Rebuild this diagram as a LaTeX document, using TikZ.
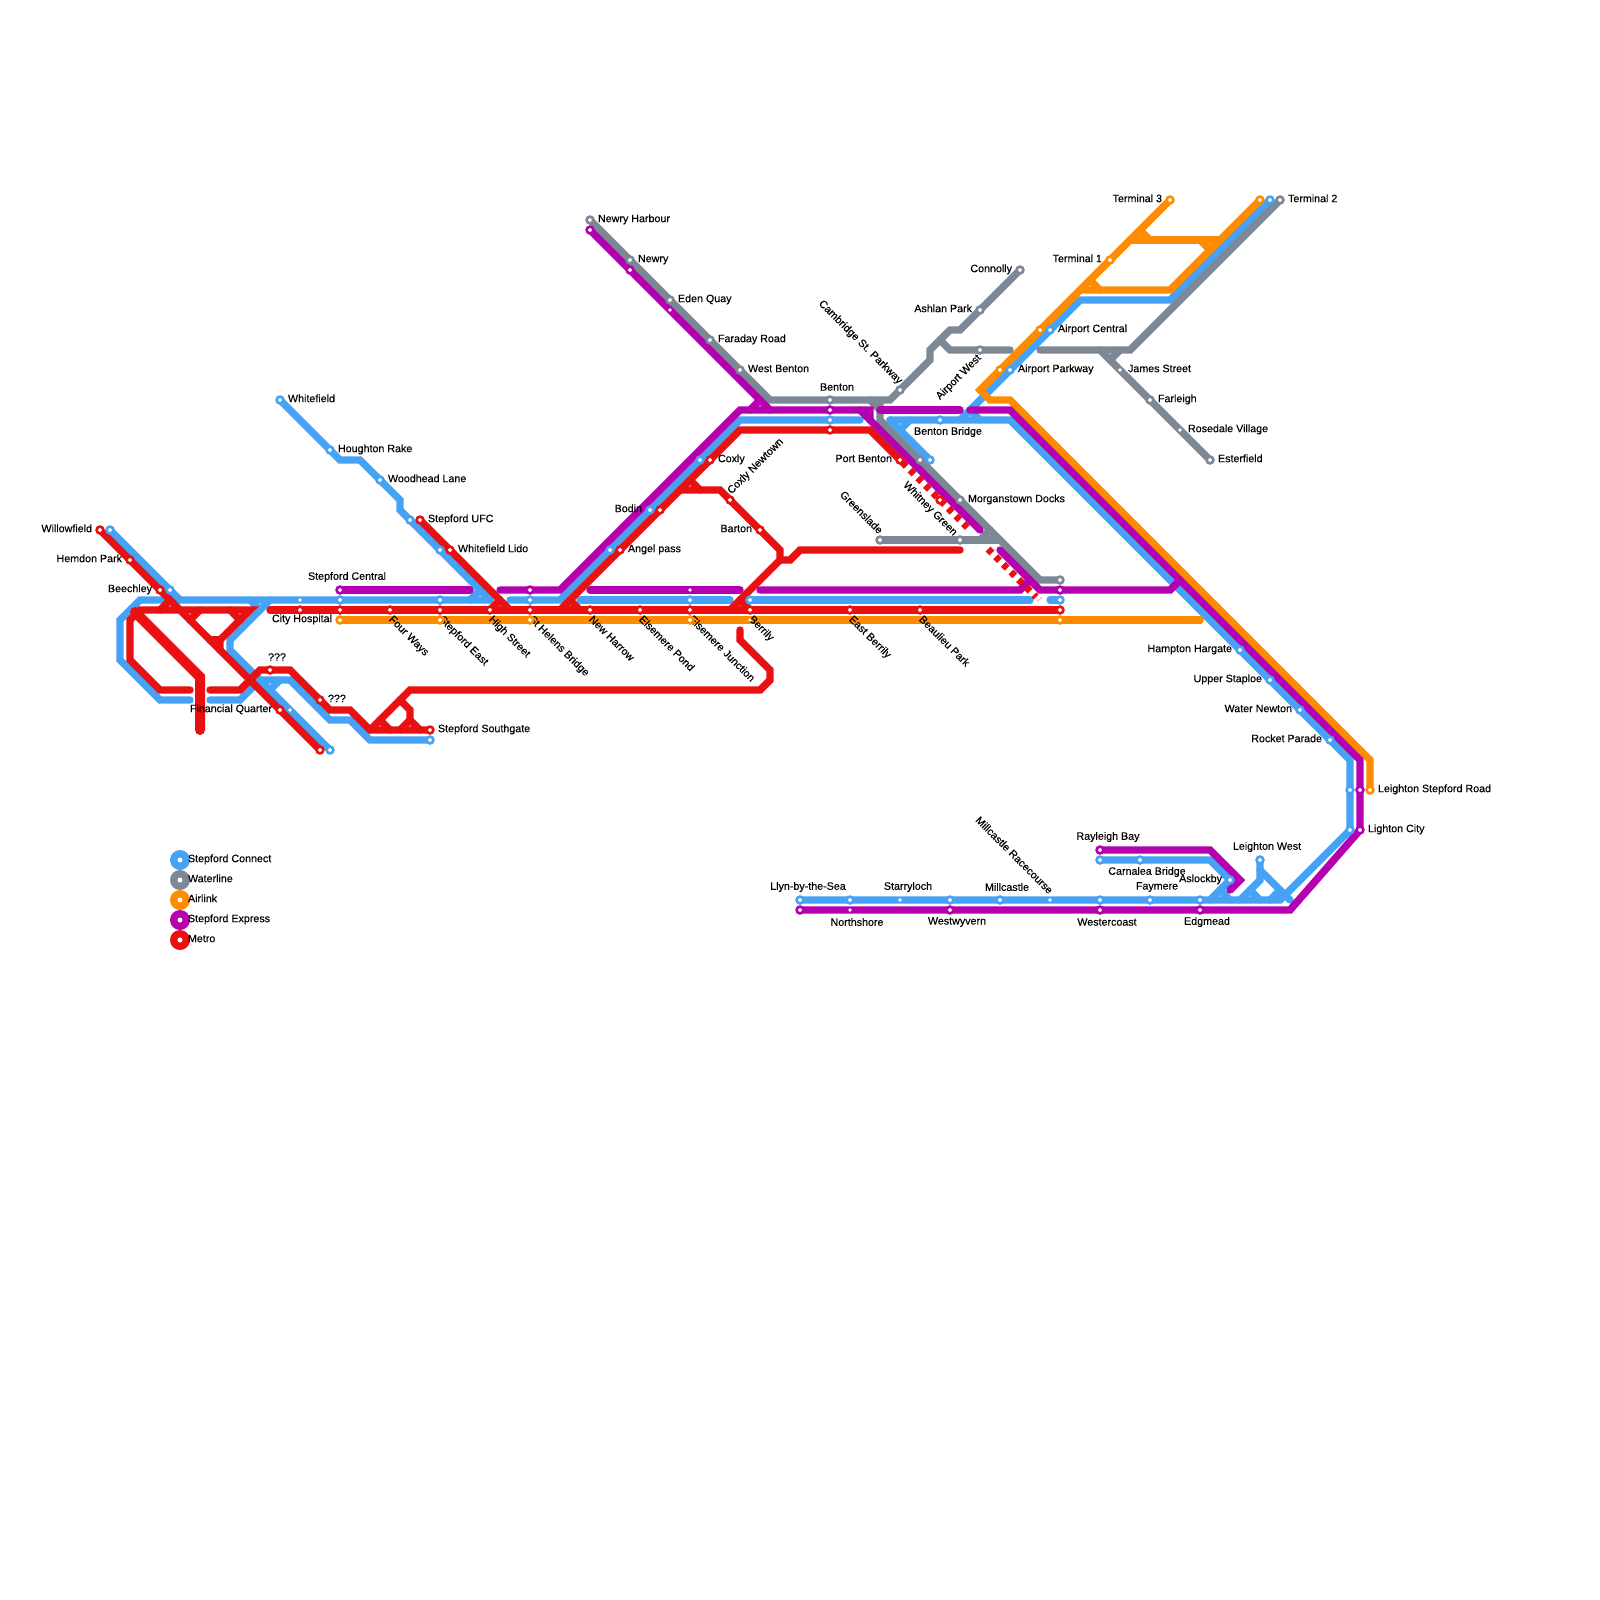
\documentclass[tikz,border=0pt]{standalone}
\usepackage{fontspec}
\newfontfamily\lblfont{Liberation Sans}[FakeBold=0.25]
\definecolor{cblue}{HTML}{46A2F5}
\definecolor{cgray}{HTML}{7C8896}
\definecolor{corange}{HTML}{FF8C00}
\definecolor{cpurple}{HTML}{B400AE}
\definecolor{cred}{HTML}{E81010}
\pgfdeclarelayer{lines}
\pgfdeclarelayer{labels}
\pgfsetlayers{lines,labels,main}
\tikzset{
  ring/.style={circle,fill=white,draw=#1,line width=2.6pt,minimum size=6.8pt,inner sep=0pt,outer sep=0pt},
  smalldot/.style={circle,fill=white,minimum size=3.8pt,inner sep=0pt,outer sep=0pt},
  mline/.style={line width=7.4pt,line cap=round,line join=miter,draw=#1},
  thick red/.style={line width=10pt,line cap=round,line join=miter,draw=cred},
  dashred/.style={line width=7pt,draw=cred,line cap=butt,dash pattern=on 5.5pt off 5.3pt},
  lbl/.style={font=\lblfont\fontsize{10.7}{12}\selectfont,text=black,inner sep=0pt,outer sep=0pt},
  rl/.style={lbl,anchor=mid west,xshift=8pt},
  ll/.style={lbl,anchor=mid east,xshift=-8pt},
  cl/.style={lbl,anchor=center},
  dr/.style={lbl,anchor=mid west,rotate=-45,xshift=6pt,yshift=-6pt},
  ur/.style={lbl,anchor=mid west,rotate=45,xshift=5pt,yshift=5pt},
  ule/.style={lbl,anchor=mid east,rotate=-45,xshift=-5pt,yshift=5pt},
  dle/.style={lbl,anchor=mid east,rotate=45,xshift=-5pt,yshift=-5pt},
  leg/.style={circle,fill=#1,minimum size=20pt,inner sep=0pt},
  legdot/.style={circle,fill=white,minimum size=5pt,inner sep=0pt},
  legt/.style={lbl,anchor=mid west}
}
\newcommand{\stn}[4]{\node[ring=#4] (#1) at (#2,#3) {};}
\newcommand{\sdt}[3]{\node[smalldot] (#1) at (#2,#3) {};}
\newcommand{\lab}[4]{\begin{pgfonlayer}{labels}\node[#1] (l#2) at (#3) {#4};\end{pgfonlayer}}
\begin{document}
\begin{tikzpicture}[x=1pt,y=-1pt]
\useasboundingbox (0,0) rectangle (1600,1600);
% ---------- blue stations
\stn{bwhitefield}{280}{400}{cblue} \stn{bhoughton}{330}{450}{cblue} \stn{bwoodhead}{380}{480}{cblue}
\stn{bufc}{410}{520}{cblue} \stn{blido}{440}{550}{cblue} \stn{bwillow}{110}{530}{cblue}
\stn{bbeech}{170}{590}{cblue} \sdt{bfin}{290}{710} \stn{bend}{330}{750}{cblue}
\sdt{bch}{300}{600} \stn{bcent}{340}{600}{cblue} \stn{beast}{440}{600}{cblue}
\stn{bsta}{530}{600}{cblue} \stn{bangel}{610}{550}{cblue} \stn{bbodin}{650}{510}{cblue}
\stn{bcoxly}{700}{460}{cblue} \stn{bbenton}{830}{420}{cblue} \stn{bjunc}{690}{600}{cblue}
\stn{bberr}{750}{600}{cblue} \stn{bsouth}{430}{740}{cblue} \stn{bbridge}{940}{420}{cblue}
\stn{bpb}{930}{460}{cblue} \stn{bterm}{1270}{200}{cblue} \stn{bac}{1050}{330}{cblue}
\stn{bap}{1010}{370}{cblue} \stn{bfar}{1060}{600}{cblue} \stn{hampton}{1240}{650}{cblue}
\stn{staploe}{1270}{680}{cblue} \stn{water}{1300}{710}{cblue} \stn{rocket}{1330}{740}{cblue}
\stn{blsr}{1350}{790}{cblue} \stn{blc}{1350}{830}{cblue} \stn{llyn}{800}{900}{cblue}
\stn{bnorth}{850}{900}{cblue} \sdt{starry}{900}{900} \stn{bwest}{950}{900}{cblue}
\stn{millc}{1000}{900}{cblue} \sdt{racec}{1050}{900} \stn{bwc}{1100}{900}{cblue}
\stn{faymere}{1150}{900}{cblue} \stn{bedg}{1200}{900}{cblue} \stn{bray}{1100}{860}{cblue}
\stn{carnalea}{1140}{860}{cblue} \stn{aslock}{1230}{880}{cblue} \stn{lwest}{1260}{860}{cblue}
% ---------- gray stations
\stn{gnh}{590}{220}{cgray} \stn{gnewry}{630}{260}{cgray} \stn{geden}{670}{300}{cgray}
\stn{gfar}{710}{340}{cgray} \stn{gwb}{740}{370}{cgray} \stn{gbenton}{830}{400}{cgray}
\stn{gcamb}{900}{390}{cgray} \stn{ashlan}{980}{310}{cgray} \stn{connolly}{1020}{270}{cgray}
\stn{airw}{980}{350}{cgray} \stn{gpb}{920}{460}{cgray} \stn{morg}{960}{500}{cgray}
\stn{gree}{880}{540}{cgray} \stn{gw}{960}{540}{cgray} \stn{gfar2}{1060}{580}{cgray}
\stn{gt2}{1280}{200}{cgray} \sdt{james}{1120}{370} \stn{farleigh}{1150}{400}{cgray}
\sdt{rosedale}{1180}{430} \stn{ester}{1210}{460}{cgray}
% ---------- orange stations
\stn{ocent}{340}{620}{corange} \stn{oeast}{440}{620}{corange} \stn{osta}{530}{620}{corange}
\stn{ojunc}{690}{620}{corange} \sdt{oberr}{750}{620} \stn{ofar}{1060}{620}{corange}
\stn{oap}{1000}{370}{corange} \stn{oac}{1040}{330}{corange} \stn{tone}{1110}{260}{corange}
\stn{tthree}{1170}{200}{corange} \stn{otwo}{1260}{200}{corange} \stn{olsr}{1370}{790}{corange}
% ---------- purple stations
\stn{pcent}{340}{590}{cpurple} \stn{psta}{530}{590}{cpurple} \sdt{pjunc}{690}{590}
\stn{pfar}{1060}{590}{cpurple} \stn{pnh}{590}{230}{cpurple} \stn{pnewry}{630}{270}{cpurple}
\sdt{peden}{670}{310} \stn{pbenton}{830}{410}{cpurple} \stn{plsr}{1360}{790}{cpurple}
\stn{plc}{1360}{830}{cpurple} \stn{pllyn}{800}{910}{cpurple} \sdt{pnorth}{850}{910}
\stn{pwest}{950}{910}{cpurple} \stn{pwc}{1100}{910}{cpurple} \stn{pedg}{1200}{910}{cpurple}
\stn{pray}{1100}{850}{cpurple}
% ---------- red stations
\stn{rwillow}{100}{530}{cred} \stn{hemdon}{130}{560}{cred} \stn{beechley}{160}{590}{cred}
\stn{rfin}{280}{710}{cred} \stn{rend}{320}{750}{cred} \stn{rqa}{270}{670}{cred}
\stn{rqb}{320}{700}{cred} \stn{rsouth}{430}{730}{cred} \stn{rufc}{420}{520}{cred}
\stn{rlido}{450}{550}{cred} \stn{rch}{300}{610}{cred} \stn{rcent}{340}{610}{cred}
\stn{four}{390}{610}{cred} \stn{reast}{440}{610}{cred} \stn{high}{490}{610}{cred}
\stn{rsta}{530}{610}{cred} \stn{newh}{590}{610}{cred} \stn{elp}{640}{610}{cred}
\stn{rjunc}{690}{610}{cred} \stn{rberr}{750}{610}{cred} \stn{eb}{850}{610}{cred}
\stn{bp}{920}{610}{cred} \stn{rfar}{1060}{610}{cred} \stn{rangel}{620}{550}{cred}
\stn{rbodin}{660}{510}{cred} \stn{rcoxly}{710}{460}{cred} \stn{rbenton}{830}{430}{cred}
\stn{portb}{900}{460}{cred} \stn{cnewt}{730}{500}{cred} \stn{barton}{760}{530}{cred}
\stn{whitney}{940}{500}{cred}
% ---------- labels
\lab{rl}{a}{bwhitefield}{Whitefield}
\lab{rl}{b}{bhoughton}{Houghton Rake}
\lab{rl}{c}{bwoodhead}{Woodhead Lane}
\lab{rl}{d}{rufc}{Stepford UFC}
\lab{rl}{e}{rlido}{Whitefield Lido}
\lab{rl}{f}{rangel}{Angel pass}
\lab{rl}{g}{rcoxly}{Coxly}
\lab{rl}{h}{gnh}{Newry Harbour}
\lab{rl}{i}{gnewry}{Newry}
\lab{rl}{j}{geden}{Eden Quay}
\lab{rl}{k}{gfar}{Faraday Road}
\lab{rl}{l}{gwb}{West Benton}
\lab{rl}{m}{morg}{Morganstown Docks}
\lab{rl}{n}{bac}{Airport Central}
\lab{rl}{o}{bap}{Airport Parkway}
\lab{rl}{p}{james}{James Street}
\lab{rl}{q}{farleigh}{Farleigh}
\lab{rl}{r}{rosedale}{Rosedale Village}
\lab{rl}{s}{ester}{Esterfield}
\lab{rl}{t}{gt2}{Terminal 2}
\lab{rl}{u}{olsr}{Leighton Stepford Road}
\lab{rl}{v}{plc}{Lighton City}
\lab{rl}{w}{rsouth}{Stepford Southgate}
\lab{rl}{x}{rqb}{???}
\lab{ll}{aa}{rwillow}{Willowfield}
\lab{ll}{ab}{hemdon}{Hemdon Park}
\lab{ll}{ac}{beechley}{Beechley}
\lab{ll}{ad}{portb}{Port Benton}
\lab{ll}{ae}{barton}{Barton}
\lab{ll}{af}{bbodin}{Bodin}
\lab{ll}{ag}{rfin}{Financial Quarter}
\lab{ll}{ah}{ocent}{City Hospital}
\lab{ll}{ai}{tthree}{Terminal 3}
\lab{ll}{aj}{tone}{Terminal 1}
\lab{ll}{ak}{connolly}{Connolly}
\lab{ll}{al}{ashlan}{Ashlan Park}
\lab{ll}{am}{hampton}{Hampton Hargate}
\lab{ll}{an}{staploe}{Upper Staploe}
\lab{ll}{ao}{water}{Water Newton}
\lab{ll}{ap}{rocket}{Rocket Parade}
\lab{ll}{aq}{aslock}{Aslockby}
\lab{cl}{ba}{347,577}{Stepford Central}
\lab{cl}{bb}{277,657}{???}
\lab{cl}{bc}{837,387}{Benton}
\lab{cl}{bd}{948,432}{Benton Bridge}
\lab{cl}{be}{808,887}{Llyn-by-the-Sea}
\lab{cl}{bf}{908,887}{Starryloch}
\lab{cl}{bg}{1007,887}{Millcastle}
\lab{cl}{bh}{857,922}{Northshore}
\lab{cl}{bi}{957,922}{Westwyvern}
\lab{cl}{bj}{1107,922}{Westercoast}
\lab{cl}{bk}{1207,922}{Edgmead}
\lab{cl}{bl}{1157,887}{Faymere}
\lab{cl}{bm}{1147,872}{Carnalea Bridge}
\lab{cl}{bn}{1108,837}{Rayleigh Bay}
\lab{cl}{bo}{1267,847}{Leighton West}
\lab{cl,rotate=-45}{bp}{930,509}{Whitney Green}
\lab{dr}{ca}{four}{Four Ways}
\lab{dr}{cb}{reast}{Stepford East}
\lab{dr}{cc}{high}{High Street}
\lab{dr}{cd}{rsta}{St Helens Bridge}
\lab{dr}{ce}{newh}{New Harrow}
\lab{dr}{cf}{elp}{Elsemere Pond}
\lab{dr}{cg}{rjunc}{Elsemere Junction}
\lab{dr}{ch}{rberr}{Berrily}
\lab{dr}{ci}{eb}{East Berrily}
\lab{dr}{cj}{bp}{Beaulieu Park}
\lab{ur}{da}{cnewt}{Coxly Newtown}
\lab{dle}{db}{airw}{Airport West}
\lab{ule}{dc}{gcamb}{Cambridge St. Parkway}
\lab{ule}{dd}{gree}{Greenslade}
\lab{ule}{de}{racec}{Millcastle Racecourse}
% ---------- lines
\begin{pgfonlayer}{lines}
% blue
\draw[mline=cblue] (bwhitefield.center) -- (bhoughton.center) -- (340,460) -- (360,460) -- (bwoodhead.center) -- (400,500) -- (400,510) -- (bufc.center) -- (blido.center) -- (490,600);
\draw[mline=cblue] (480,590) -- (470,600);
\draw[mline=cblue] (bwillow.center) -- (bbeech.center) -- (180,600);
\draw[mline=cblue] (190,700) -- (160,700) -- (120,660) -- (120,620) -- (140,600) -- (bch.center) -- (bcent.center) -- (beast.center) -- (490,600);
\draw[mline=cblue] (250,600) -- (260,610);
\draw[mline=cblue] (270,600) -- (230,640) -- (230,650) -- (bfin.center) -- (bend.center);
\draw[mline=cblue] (210,700) -- (240,700) -- (260,680) -- (290,680) -- (330,720) -- (350,720) -- (370,740) -- (bsouth.center);
\draw[mline=cblue] (280,680) -- (270,690);
\draw[mline=cblue] (510,600) -- (bsta.center) -- (560,600) -- (bangel.center) -- (bbodin.center) -- (bcoxly.center) -- (740,420) -- (bbenton.center) -- (860,420);
\draw[mline=cblue] (580,600) -- (bjunc.center) -- (730,600);
\draw[mline=cblue] (bberr.center) -- (1030,600);
\draw[mline=cblue] (1050,600) -- (bfar.center);
\draw[mline=cblue] (890,420) -- (bbridge.center) -- (1010,420) -- (hampton.center) -- (staploe.center) -- (water.center) -- (rocket.center) -- (1350,760) -- (blsr.center) -- (blc.center) -- (1280,900) -- (bedg.center) -- (faymere.center) -- (bwc.center) -- (racec.center) -- (millc.center) -- (bwest.center) -- (starry.center) -- (bnorth.center) -- (llyn.center);
\draw[mline=cblue] (890,420) -- (bpb.center);
\draw[mline=cblue] (900,430) -- (910,420);
\draw[mline=cblue] (960,420) -- (bap.center) -- (bac.center) -- (1080,300) -- (1170,300) -- (bterm.center);
\draw[mline=cblue] (970,410) -- (980,420);
\draw[mline=cblue] (bray.center) -- (carnalea.center) -- (1210,860) -- (aslock.center) -- (1210,900);
\draw[mline=cblue] (1220,890) -- (1230,900);
\draw[mline=cblue] (lwest.center) -- (1260,880) -- (1240,900);
\draw[mline=cblue] (1260,870) -- (1290,900);
\draw[mline=cblue] (1250,890) -- (1260,900);
\draw[mline=cblue] (1280,890) -- (1270,900);
% gray
\draw[mline=cgray] (gnh.center) -- (gnewry.center) -- (geden.center) -- (gfar.center) -- (gwb.center) -- (770,400) -- (gbenton.center) -- (890,400) -- (gcamb.center) -- (930,360) -- (930,350) -- (950,330) -- (960,330) -- (ashlan.center) -- (connolly.center);
\draw[mline=cgray] (870,400) -- (880,410);
\draw[mline=cgray] (880,400) -- (880,420) -- (gpb.center) -- (morg.center) -- (1040,580) -- (gfar2.center);
\draw[mline=cgray] (940,340) -- (950,350) -- (airw.center) -- (1010,350);
\draw[mline=cgray] (gree.center) -- (gw.center) -- (1000,540);
\draw[mline=cgray] (980,540) -- (990,530);
\draw[mline=cgray] (1040,350) -- (1130,350) -- (gt2.center);
\draw[mline=cgray] (1100,350) -- (james.center) -- (farleigh.center) -- (rosedale.center) -- (ester.center);
\draw[mline=cgray] (1120,350) -- (1110,360);
% orange
\draw[mline=corange] (ocent.center) -- (oeast.center) -- (osta.center) -- (ojunc.center) -- (oberr.center) -- (1200,620);
\draw[mline=corange] (ofar.center) -- (1200,620);
\draw[mline=corange] (tthree.center) -- (tone.center) -- (oac.center) -- (oap.center) -- (980,390) -- (990,400) -- (1010,400) -- (1370,760) -- (olsr.center);
\draw[mline=corange] (otwo.center) -- (1170,290) -- (1080,290);
\draw[mline=corange] (1090,280) -- (1100,290);
\draw[mline=corange] (1130,240) -- (1220,240);
\draw[mline=corange] (1140,230) -- (1150,240);
\draw[mline=corange] (1200,240) -- (1210,250);
% purple
\draw[mline=cpurple] (pcent.center) -- (470,590);
\draw[mline=cpurple] (500,590) -- (psta.center) -- (560,590) -- (740,410) -- (pbenton.center) -- (870,410) -- (870,420);
\draw[mline=cpurple] (860,410) -- (980,530);
\draw[mline=cpurple] (pnh.center) -- (pnewry.center) -- (peden.center) -- (770,410);
\draw[mline=cpurple] (760,400) -- (750,410);
\draw[mline=cpurple] (590,590) -- (pjunc.center) -- (740,590);
\draw[mline=cpurple] (760,590) -- (1020,590) -- (1030,580);
\draw[mline=cpurple] (1000,550) -- (1040,590) -- (pfar.center) -- (1170,590) -- (1180,580);
\draw[mline=cpurple] (880,410) -- (960,410);
\draw[mline=cpurple] (970,410) -- (1010,410) -- (1360,760) -- (plsr.center) -- (plc.center) -- (1290,910) -- (pedg.center) -- (pwc.center) -- (pwest.center) -- (pnorth.center) -- (pllyn.center);
\draw[mline=cpurple] (pray.center) -- (1210,850) -- (1240,880) -- (1230,890);
% red
\draw[mline=cred] (rwillow.center) -- (hemdon.center) -- (beechley.center) -- (rfin.center) -- (rend.center);
\draw[mline=cred] (160,610) -- (170,600);
\draw[mline=cred] (190,690) -- (160,690) -- (130,660) -- (130,620) -- (140,610) -- (250,610) -- (220,640) -- (220,650);
\draw[mline=cred] (190,620) -- (200,610);
\draw[mline=cred] (230,610) -- (240,620);
\draw[mline=cred] (210,640) -- (220,640);
\draw[thick red] (135,612) -- (200,677) -- (200,730);
\draw[mline=cred] (210,690) -- (240,690) -- (260,670) -- (rqa.center) -- (290,670) -- (rqb.center) -- (330,710) -- (350,710) -- (370,730) -- (rsouth.center);
\draw[mline=cred] (370,730) -- (410,690) -- (760,690) -- (770,680) -- (770,670) -- (740,640) -- (740,630);
\draw[mline=cred] (400,700) -- (410,710) -- (410,720) -- (420,730);
\draw[mline=cred] (380,720) -- (390,730);
\draw[mline=cred] (400,730) -- (410,720);
\draw[mline=cred] (rufc.center) -- (rlido.center) -- (510,610);
\draw[mline=cred] (490,610) -- (500,600);
\draw[mline=cred] (270,610) -- (rch.center) -- (rcent.center) -- (four.center) -- (reast.center) -- (high.center) -- (rsta.center) -- (newh.center) -- (elp.center) -- (rjunc.center) -- (rberr.center) -- (eb.center) -- (bp.center) -- (rfar.center);
\draw[mline=cred] (560,610) -- (rangel.center) -- (rbodin.center) -- (rcoxly.center) -- (740,430) -- (rbenton.center) -- (870,430) -- (portb.center);
\draw[mline=cred] (570,600) -- (580,610);
\draw[mline=cred] (690,480) -- (700,490);
\draw[mline=cred] (680,490) -- (720,490) -- (cnewt.center) -- (barton.center) -- (780,550) -- (780,560) -- (730,610);
\draw[mline=cred] (780,560) -- (790,560) -- (800,550) -- (960,550);
\draw[mline=cred] (740,600) -- (750,610);
\coordinate (dashAend) at (970,530);
\coordinate (dashBstart) at (988,549);
\coordinate (dashBend) at (1036,597);
\coordinate (fa) at (1037,602);
\coordinate (fb) at (1042,597);
\draw[dashred,dash phase=7.3pt] (portb.center) -- (whitney.center) -- (dashAend);
\draw[dashred] (dashBstart) -- (dashBend);
\draw[draw=cred,opacity=.5,line width=.6pt] (fa) -- (fb);
\end{pgfonlayer}
% ---------- legend
\node[leg=cblue] (k1) at (180,860) {}; \node[legdot] (k1d) at (k1.center) {};
\node[leg=cgray] (k2) at (180,880) {}; \node[legdot] (k2d) at (k2.center) {};
\node[leg=corange] (k3) at (180,900) {}; \node[legdot] (k3d) at (k3.center) {};
\node[leg=cpurple] (k4) at (180,920) {}; \node[legdot] (k4d) at (k4.center) {};
\node[leg=cred] (k5) at (180,940) {}; \node[legdot] (k5d) at (k5.center) {};
\node[legt] (t1) at (188,860) {Stepford Connect};
\node[legt] (t2) at (188,880) {Waterline};
\node[legt] (t3) at (188,900) {Airlink};
\node[legt] (t4) at (188,920) {Stepford Express};
\node[legt] (t5) at (188,940) {Metro};
\end{tikzpicture}
\end{document}
